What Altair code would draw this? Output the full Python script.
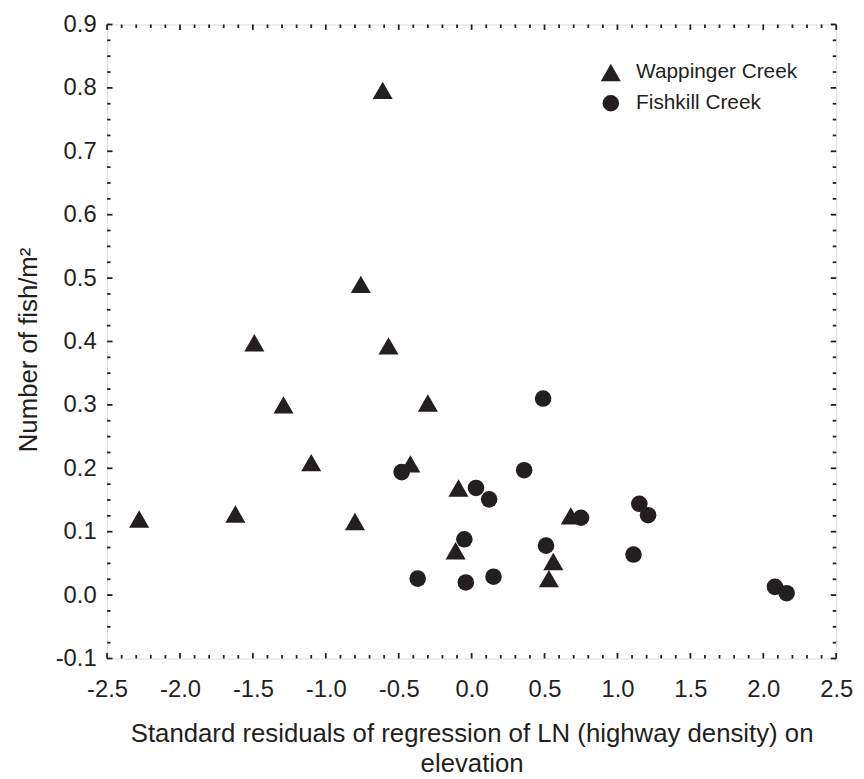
import altair as alt
import pandas as pd

FONT = "Liberation Sans"
INK = "#231f20"

series_names = ["Wappinger Creek", "Fishkill Creek"]

wap_x = [-2.28, -1.62, -1.49, -1.29, -1.10, -0.80, -0.76, -0.61, -0.57, -0.42, -0.30, -0.09, -0.11, 0.68, 0.56, 0.53]
wap_y = [0.120, 0.128, 0.398, 0.300, 0.209, 0.116, 0.490, 0.796, 0.393, 0.207, 0.303, 0.169, 0.070, 0.125, 0.053, 0.026]

fish_x = [-0.48, -0.37, -0.05, -0.04, 0.03, 0.12, 0.15, 0.36, 0.49, 0.51, 0.75, 1.15, 1.21, 1.11, 2.08, 2.16]
fish_y = [0.194, 0.026, 0.088, 0.020, 0.169, 0.151, 0.029, 0.197, 0.310, 0.078, 0.122, 0.144, 0.126, 0.064, 0.013, 0.003]

x_major = [-2.5, -2.0, -1.5, -1.0, -0.5, 0.0, 0.5, 1.0, 1.5, 2.0, 2.5]
x_minor = [round(-2.5 + 0.1 * i, 2) for i in range(51) if i % 5]
y_major = [-0.1, 0.0, 0.1, 0.2, 0.3, 0.4, 0.5, 0.6, 0.7, 0.8, 0.9]
y_minor = [round(-0.1 + 0.025 * i, 3) for i in range(41) if i % 4]

W, H = 736, 640
MAJ, MIN = 5.5, 3.5

pts = pd.DataFrame({
    "x": wap_x + fish_x,
    "y": wap_y + fish_y,
    "series": [series_names[0]] * len(wap_x) + [series_names[1]] * len(fish_x),
})

xscale = alt.Scale(domain=[-2.5, 2.5], nice=False, zero=False)
yscale = alt.Scale(domain=[-0.1, 0.9], nice=False, zero=False)

label_expr = "datum.value < 0 ? '-' + format(-datum.value, '.1f') : format(datum.value, '.1f')"

xaxis = alt.Axis(
    values=x_major, labelExpr=label_expr, ticks=False, domain=False, grid=False,
    labelFlush=False, labelOverlap=False,
    labelFontSize=24, labelFont=FONT, labelColor=INK, labelPadding=19,
    title=["Standard residuals of regression of LN (highway density) on", "elevation"],
    titleFontSize=26, titleFont=FONT, titleFontWeight="normal", titleColor=INK,
    titleBaseline="alphabetic", titleY=84, titleLineHeight=30,
)
yaxis = alt.Axis(
    values=y_major, labelExpr=label_expr, ticks=False, domain=False, grid=False,
    labelFlush=False, labelOverlap=False,
    labelFontSize=24, labelFont=FONT, labelColor=INK, labelPadding=11,
    title="Number of fish/m\u00b2",
    titleFontSize=26, titleFont=FONT, titleFontWeight="normal", titleColor=INK,
    titleBaseline="alphabetic", titleX=-71, titleY=328, titleAngle=-90, titleAlign="center",
)

legend = alt.Legend(
    title=None, orient="none", legendX=498, legendY=38, padding=0,
    labelFontSize=21, labelFont=FONT, labelColor=INK, labelOffset=15, rowPadding=9,
    labelLimit=0,
    symbolFillColor=INK, symbolStrokeWidth=0, symbolOpacity=1,
)

points = alt.Chart(pts).mark_point(filled=True, opacity=1, color=INK, strokeWidth=0).encode(
    x=alt.X("x:Q", scale=xscale, axis=xaxis),
    y=alt.Y("y:Q", scale=yscale, axis=yaxis),
    shape=alt.Shape("series:N", scale=alt.Scale(domain=series_names, range=["triangle-up", "circle"]), legend=legend),
    size=alt.Size("series:N", scale=alt.Scale(domain=series_names, range=[410, 280]), legend=legend),
)


def xticks(vals, y0, y1):
    return alt.Chart(pd.DataFrame({"x": vals})).mark_rule(color=INK, strokeWidth=1.8).encode(
        x=alt.X("x:Q", scale=xscale, axis=xaxis), y=alt.value(y0), y2=alt.value(y1)
    )


def yticks(vals, x0, x1):
    return alt.Chart(pd.DataFrame({"y": vals})).mark_rule(color=INK, strokeWidth=1.8).encode(
        y=alt.Y("y:Q", scale=yscale, axis=yaxis), x=alt.value(x0), x2=alt.value(x1)
    )


layers = [
    xticks(x_major, H, H - MAJ), xticks(x_minor, H, H - MIN),
    xticks(x_major, 0, MAJ), xticks(x_minor, 0, MIN),
    yticks(y_major, 0, MAJ), yticks(y_minor, 0, MIN),
    yticks(y_major, W, W - MAJ), yticks(y_minor, W, W - MIN),
    points,
]

chart = alt.layer(*layers).properties(
    width=W, height=H,
    autosize=alt.AutoSizeParams(type="none"),
    padding={"left": 100, "top": 13, "right": 20, "bottom": 118},
).configure_view(stroke=INK, strokeWidth=2).configure(background="white")

chart.save("out.html", embed_options={"renderer": "svg", "actions": False})
